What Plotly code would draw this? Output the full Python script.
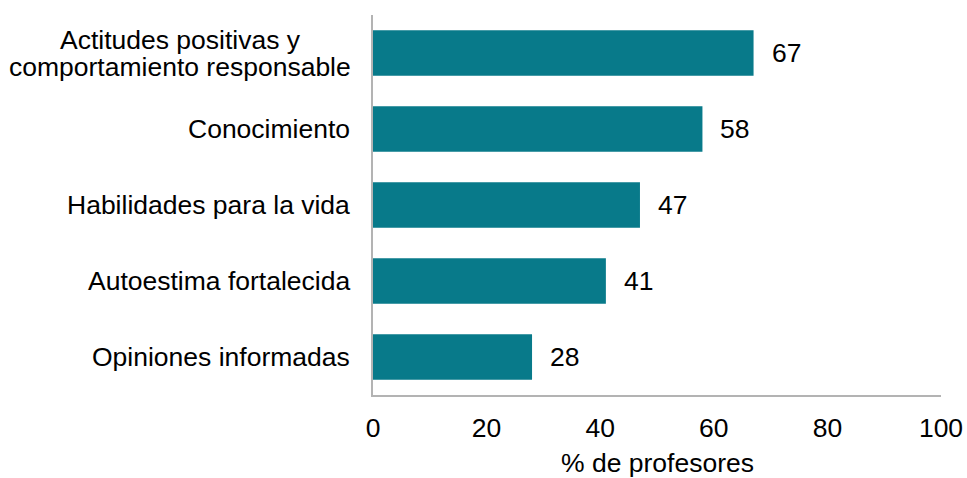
import plotly.graph_objects as go

categories = ["Actitudes positivas y<br>comportamiento responsable",
              "Conocimiento",
              "Habilidades para la vida",
              "Autoestima fortalecida",
              "Opiniones informadas"]
values = [67, 58, 47, 41, 28]
x_ticks = [0, 20, 40, 60, 80, 100]
x_title = "% de profesores"

BAR = "#087a8a"
FONT = "Liberation Sans, Arial, sans-serif"
FS = 26.5

fig = go.Figure(go.Bar(
    x=values, y=categories, orientation="h",
    marker=dict(color=BAR, line=dict(width=0)),
    hoverinfo="skip",
))

ann = []
for c, v in zip(categories, values):
    ann.append(dict(x=v, y=c, xref="x", yref="y", text=str(v), showarrow=False,
                    xanchor="left", xshift=16, font=dict(size=FS, color="#000", family=FONT)))
    lines = c.split("<br>")
    n = len(lines)
    for i, ln in enumerate(lines):
        shift = (n - 1) / 2 * 27 - i * 27
        if n > 1:
            ann.append(dict(x=0, y=c, xref="paper", yref="y", text=ln, showarrow=False,
                            xanchor="center", align="center", xshift=-193, yshift=shift,
                            font=dict(size=FS, color="#000", family=FONT)))
        else:
            ann.append(dict(x=0, y=c, xref="paper", yref="y", text=ln, showarrow=False,
                            xanchor="right", xshift=-21, yshift=shift,
                            font=dict(size=FS, color="#000", family=FONT)))

# x-axis title
ann.append(dict(x=0.5, y=0, xref="paper", yref="paper", text=x_title, showarrow=False,
                xanchor="center", yanchor="middle", yshift=-68,
                font=dict(size=FS, color="#000", family=FONT)))

fig.update_layout(
    width=967, height=478,
    margin=dict(l=373, r=26, t=15, b=83),
    paper_bgcolor="white", plot_bgcolor="white",
    font=dict(family=FONT, size=FS, color="#000"),
    bargap=0.4,
    showlegend=False,
    annotations=ann,
    xaxis=dict(range=[0, 100], tickvals=x_ticks, showgrid=False, zeroline=False,
               showline=True, linecolor="#b3b3b3", linewidth=1.5, automargin=False,
               ticks="", ticklabelstandoff=8),
    yaxis=dict(autorange="reversed", showticklabels=False, showgrid=False, zeroline=False,
               showline=True, linecolor="#b3b3b3", linewidth=1.5, ticks="", automargin=False),
)

fig.write_html("out.html", config={"displayModeBar": False},
               post_script="document.body.style.margin='0';document.body.style.overflow='hidden';")
